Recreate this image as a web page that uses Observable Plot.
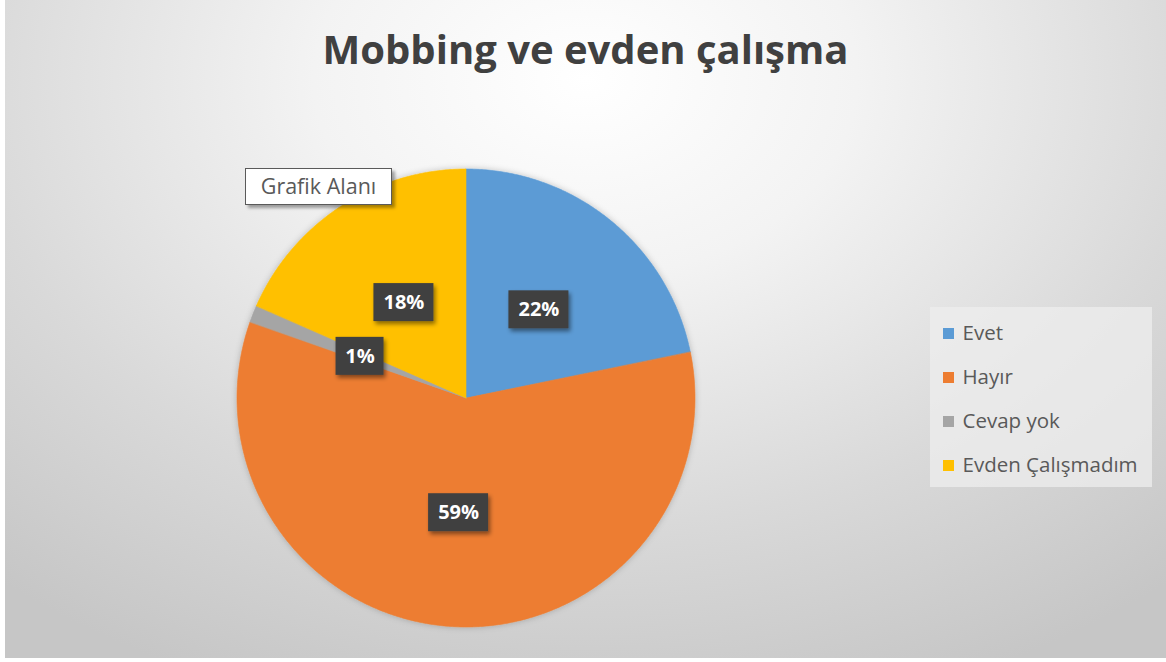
<!DOCTYPE html>
<html>
<head>
<meta charset="utf-8">
<script src="https://cdn.jsdelivr.net/npm/d3@7"></script>
<script src="https://cdn.jsdelivr.net/npm/@observablehq/plot@0.6"></script>
<style>
  html, body { margin: 0; padding: 0; background: #ffffff; }
  #chart { position: relative; width: 1166px; height: 662px; background: #ffffff; overflow: hidden; }
  #panel { position: absolute; left: 5px; top: 0; width: 1161px; height: 658px;
    background: radial-gradient(ellipse 78% 100% at 50% 12%, #ffffff 0%, #f3f3f3 30%, #d9d9d9 68%, #c6c6c6 100%);
    font-family: "Open Sans", sans-serif; }
  #title { position: absolute; left: 0; top: 22px; width: 1161px; text-align: center;
    font-size: 40px; font-weight: bold; color: #404040; line-height: 54px; }
  #pie { position: absolute; left: 0; top: 0; }
  #legend { position: absolute; left: 925px; top: 307px; width: 222px; height: 180px; background: rgba(238,238,238,0.75); }
  #tip { position: absolute; left: 240px; top: 168px; width: 147px; height: 37px; box-sizing: border-box;
    background: #ffffff; border: 1px solid #5a5a5a; color: #595959; font-size: 21.5px; line-height: 34px;
    text-align: center; box-shadow: 3px 3px 3px rgba(0,0,0,0.35); }
</style>
</head>
<body>
<div id="chart">
  <div id="panel">
    <div id="title">Mobbing ve evden çalışma</div>
    <div id="pie"></div>
    <div id="legend"></div>
    <div id="tip">Grafik Alanı</div>
  </div>
</div>
<script>
const categories = ["Evet", "Hayır", "Cevap yok", "Evden Çalışmadım"];
const values = [21.8, 58.6, 1.2, 18.4];
const labels = ["22%", "59%", "1%", "18%"];
const colors = ["#5B9BD5", "#ED7D31", "#A5A5A5", "#FFC000"];

// Wedge outlines from the data (angles clockwise from 12 o'clock)
const total = d3.sum(values);
const slicePoints = [];
const labelData = [];
let start = 0;
categories.forEach((name, i) => {
  const a0 = start / total * 2 * Math.PI;
  const a1 = (start + values[i]) / total * 2 * Math.PI;
  const steps = Math.max(2, Math.ceil((a1 - a0) / (Math.PI / 360)));
  for (let k = 0; k <= steps; k++) {
    const a = a0 + (a1 - a0) * k / steps;
    slicePoints.push({name, x: Math.sin(a), y: Math.cos(a)});
  }
  const am = (a0 + a1) / 2;
  labelData.push({name, label: labels[i], x: 0.5 * Math.sin(am), y: 0.5 * Math.cos(am)});
  start += values[i];
});

const pie = Plot.plot({
  width: 1161,
  height: 658,
  margin: 0,
  x: {domain: [-1, 1], range: [232, 690], axis: null},
  y: {domain: [-1, 1], range: [627, 169], axis: null},
  color: {domain: categories, range: colors},
  style: {background: "transparent", overflow: "visible"},
  marks: [
    Plot.area(slicePoints, {x1: "x", y1: "y", x2: 0, y2: 0, z: "name", fill: "name", stroke: "name", strokeWidth: 0.6,
      curve: "linear"}),
    Plot.rect(labelData.filter(d => d.label.length > 2), {x1: "x", x2: "x", y1: "y", y2: "y", fill: "#404040",
      insetLeft: -30, insetRight: -30, insetTop: -19, insetBottom: -19}),
    Plot.rect(labelData.filter(d => d.label.length <= 2), {x1: "x", x2: "x", y1: "y", y2: "y", fill: "#404040",
      insetLeft: -24, insetRight: -24, insetTop: -19, insetBottom: -19}),
    Plot.text(labelData, {x: "x", y: "y", text: "label", fill: "white", fontWeight: "bold", fontSize: 20,
      fontFamily: "Open Sans"})
  ]
});

// Soft shadows like the original chart
const svg = d3.select(pie);
const defs = svg.insert("defs", ":first-child");
defs.append("filter").attr("id", "pieShadow").attr("x", "-10%").attr("y", "-10%").attr("width", "120%").attr("height", "120%")
  .append("feDropShadow").attr("dx", 0).attr("dy", 0).attr("stdDeviation", 3).attr("flood-color", "#000").attr("flood-opacity", 0.22);
defs.append("filter").attr("id", "boxShadow").attr("x", "-20%").attr("y", "-20%").attr("width", "150%").attr("height", "160%")
  .append("feDropShadow").attr("dx", 2).attr("dy", 3).attr("stdDeviation", 2).attr("flood-color", "#000").attr("flood-opacity", 0.45);
svg.selectAll('g[aria-label="area"]').attr("filter", "url(#pieShadow)");
svg.selectAll('g[aria-label="rect"]').attr("filter", "url(#boxShadow)");
document.getElementById("pie").appendChild(pie);

const legend = Plot.plot({
  width: 222,
  height: 180,
  margin: 0,
  y: {type: "point", domain: categories, range: [25, 158], padding: 0, axis: null},
  color: {domain: categories, range: colors},
  style: {background: "transparent", overflow: "visible"},
  marks: [
    Plot.dot(categories, {y: d => d, fill: d => d, symbol: "square", r: 6.2, frameAnchor: "left", dx: 18}),
    Plot.text(categories, {y: d => d, text: d => d, frameAnchor: "left", dx: 32, textAnchor: "start",
      fill: "#595959", fontSize: 20.5, fontFamily: "Open Sans"})
  ]
});
document.getElementById("legend").appendChild(legend);
</script>
</body>
</html>
